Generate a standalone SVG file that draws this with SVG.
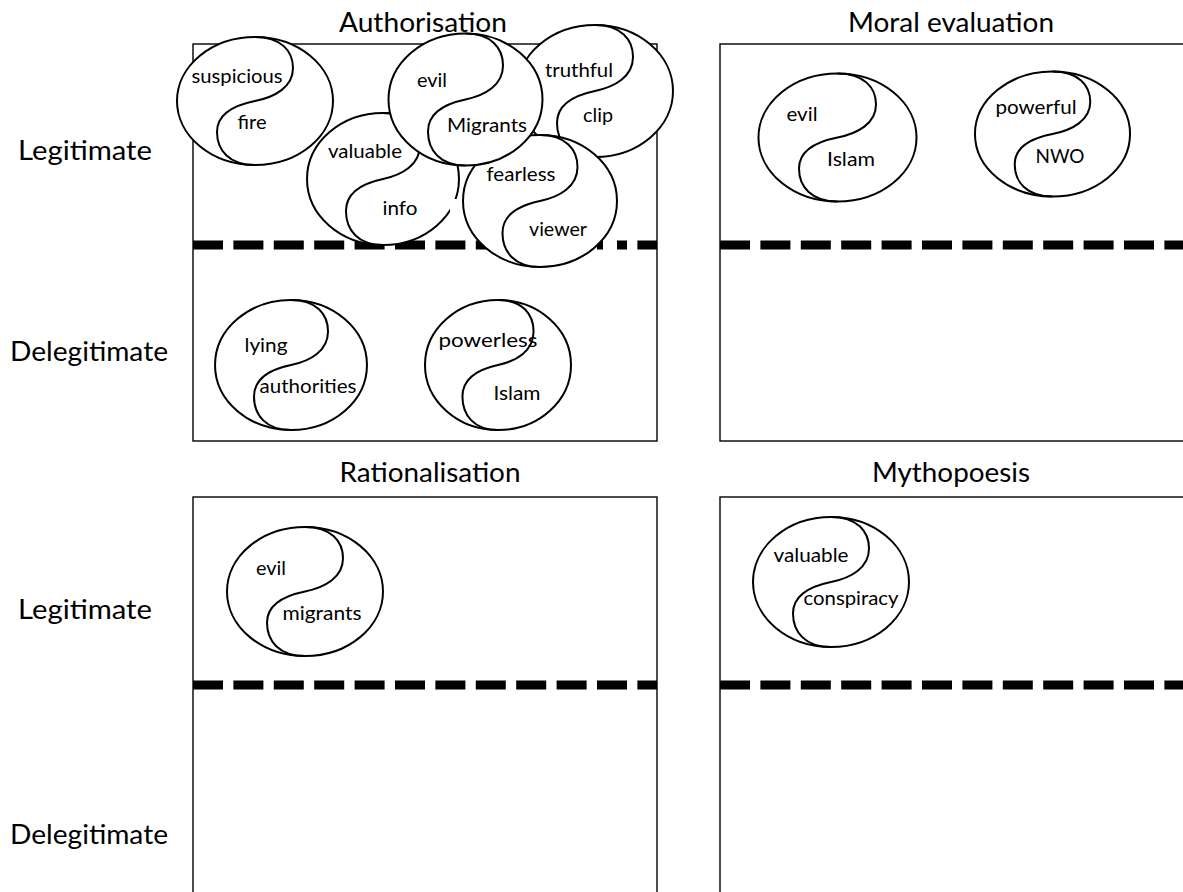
<svg xmlns="http://www.w3.org/2000/svg" width="1183" height="892" viewBox="0 0 1183 892">
<style>
.box{fill:none;stroke:#000;stroke-width:1.4}
.dash{fill:none;stroke:#000;stroke-width:9;stroke-dasharray:30 10.4}
.bg{fill:#fff;stroke:none}
text{font-family:Lato,"Liberation Sans",sans-serif;fill:#000;text-anchor:middle}
.t{font-size:27px}
.w{font-size:20px}
</style>
<defs>
<g id="yy">
<ellipse cx="0" cy="0" rx="78" ry="64" fill="#fff" stroke="#000" stroke-width="2" vector-effect="non-scaling-stroke"/>
<path d="M0,-64 C26,-64 38,-50 38,-33 C38,-14 20,-4 0,0 C-20,4 -38,13 -38,31 C-38,49 -26,64 0,64" fill="none" stroke="#000" stroke-width="2" vector-effect="non-scaling-stroke"/>
</g>
</defs>
<rect width="1183" height="892" fill="#fff"/>

<g id="labels">
<text class="t" x="423" y="32" textLength="168" lengthAdjust="spacingAndGlyphs">Authorisation</text>
<text class="t" x="951" y="32" textLength="206" lengthAdjust="spacingAndGlyphs">Moral evaluation</text>
<text class="t" x="430" y="482" textLength="181" lengthAdjust="spacingAndGlyphs">Rationalisation</text>
<text class="t" x="951" y="482" textLength="158" lengthAdjust="spacingAndGlyphs">Mythopoesis</text>
<text class="t" x="85" y="160" textLength="134" lengthAdjust="spacingAndGlyphs">Legitimate</text>
<text class="t" x="89" y="361" textLength="158" lengthAdjust="spacingAndGlyphs">Delegitimate</text>
<text class="t" x="85" y="619" textLength="134" lengthAdjust="spacingAndGlyphs">Legitimate</text>
<text class="t" x="89" y="844" textLength="158" lengthAdjust="spacingAndGlyphs">Delegitimate</text>
</g>

<g id="panels">
<rect class="box" x="193" y="44" width="464" height="397"/>
<rect class="box" x="720" y="44" width="475" height="397"/>
<rect class="box" x="193" y="497" width="464" height="405"/>
<rect class="box" x="720" y="497" width="475" height="405"/>
</g>

<g id="connectors">
<path class="dash" d="M193,245 H657"/>
<path class="dash" d="M720,245 H1190"/>
<path class="dash" d="M193,685 H657"/>
<path class="dash" d="M720,685 H1190"/>
</g>

<g id="auth-valuable-info">
<use href="#yy" transform="translate(383 179) scale(0.974 1.031)"/>
<text class="w" x="365" y="158" textLength="74" lengthAdjust="spacingAndGlyphs">valuable</text>
<text class="w" x="400" y="215" textLength="35" lengthAdjust="spacingAndGlyphs">info</text>
</g>
<g id="auth-truthful-clip">
<use href="#yy" transform="translate(595 91) scale(1 1.031)"/>
<text class="w" x="579" y="77" textLength="68" lengthAdjust="spacingAndGlyphs">truthful</text>
<text class="w" x="598" y="122" textLength="30" lengthAdjust="spacingAndGlyphs">clip</text>
</g>
<g id="auth-fearless-viewer">
<rect class="bg" x="450" y="199" width="11" height="14"/>
<rect class="bg" x="603" y="239" width="14" height="12"/>
<use href="#yy" transform="translate(540 201) scale(0.987 1.031)"/>
<text class="w" x="521" y="181" textLength="69" lengthAdjust="spacingAndGlyphs">fearless</text>
<text class="w" x="558" y="236" textLength="58" lengthAdjust="spacingAndGlyphs">viewer</text>
</g>
<g id="auth-suspicious-fire">
<use href="#yy" transform="translate(255 101)"/>
<text class="w" x="237" y="83" textLength="91" lengthAdjust="spacingAndGlyphs">suspicious</text>
<text class="w" x="252" y="129" textLength="29" lengthAdjust="spacingAndGlyphs">fire</text>
</g>
<g id="auth-evil-migrants">
<use href="#yy" transform="translate(465.5 99.5) scale(0.987 1.031)"/>
<text class="w" x="432" y="87" textLength="30" lengthAdjust="spacingAndGlyphs">evil</text>
<text class="w" x="487" y="132" textLength="80" lengthAdjust="spacingAndGlyphs">Migrants</text>
</g>
<g id="auth-lying-authorities">
<use href="#yy" transform="translate(291 365) scale(0.974 1.016)"/>
<text class="w" x="266" y="352" textLength="43" lengthAdjust="spacingAndGlyphs">lying</text>
<text class="w" x="308" y="393" textLength="97" lengthAdjust="spacingAndGlyphs">authorities</text>
</g>
<g id="auth-powerless-islam">
<use href="#yy" transform="translate(498 365) scale(0.936 1.016)"/>
<text class="w" x="488" y="347" textLength="99" lengthAdjust="spacingAndGlyphs">powerless</text>
<text class="w" x="517" y="400" textLength="47" lengthAdjust="spacingAndGlyphs">Islam</text>
</g>
<g id="moral-evil-islam">
<use href="#yy" transform="translate(837.5 137.5) scale(1.013 1)"/>
<text class="w" x="802" y="121" textLength="31" lengthAdjust="spacingAndGlyphs">evil</text>
<text class="w" x="851" y="166" textLength="48" lengthAdjust="spacingAndGlyphs">Islam</text>
</g>
<g id="moral-powerful-nwo">
<use href="#yy" transform="translate(1052.5 134) scale(0.994 0.977)"/>
<text class="w" x="1036" y="114" textLength="81" lengthAdjust="spacingAndGlyphs">powerful</text>
<text class="w" x="1060" y="163" textLength="49" lengthAdjust="spacingAndGlyphs">NWO</text>
</g>
<g id="rat-evil-migrants">
<use href="#yy" transform="translate(305 591.5) scale(1 1.008)"/>
<text class="w" x="271" y="575" textLength="30" lengthAdjust="spacingAndGlyphs">evil</text>
<text class="w" x="322" y="620" textLength="79" lengthAdjust="spacingAndGlyphs">migrants</text>
</g>
<g id="myth-valuable-conspiracy">
<use href="#yy" transform="translate(831 582) scale(1 1.016)"/>
<text class="w" x="811" y="562" textLength="75" lengthAdjust="spacingAndGlyphs">valuable</text>
<text class="w" x="851" y="605" textLength="95" lengthAdjust="spacingAndGlyphs">conspiracy</text>
</g>
</svg>
